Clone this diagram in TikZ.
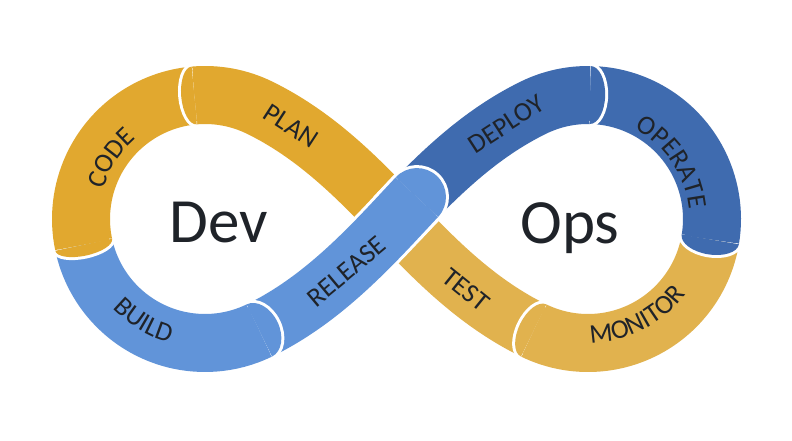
\documentclass[tikz,border=0pt]{standalone}
\usepackage{fontspec}
\setmainfont{Carlito}
\usetikzlibrary{calc,decorations.text}
\definecolor{yA}{HTML}{E1A82F}
\definecolor{yB}{HTML}{E1B24E}
\definecolor{bA}{HTML}{3F6BAF}
\definecolor{bB}{HTML}{6194D9}
\definecolor{txt}{HTML}{1F2329}
\newcommand{\lblfont}{\fontsize{27}{32}\selectfont}
\newcommand{\bandcap}[4]{%
  \begin{scope}[shift={(#1)}, rotate=#2]
    \draw[white, line width=6pt] (0,29) arc[start angle=90, end angle=-90, x radius=#3, y radius=29];
    \fill[#4] (0,29) arc[start angle=90, end angle=-90, x radius=#3, y radius=29] -- cycle;
  \end{scope}}
\begin{document}
\begin{tikzpicture}[x=1pt,y=1pt,
  band/.style={draw=#1, line width=58pt, preaction={draw=white, line width=64pt}},
  stage/.style={font=\lblfont, text=txt, inner sep=0pt},
  bigword/.style={font=\fontsize{63}{70}\selectfont, text=txt, inner sep=0pt, anchor=base},
  arctext/.style={decorate, decoration={text along path, text={|\lblfont|#1}, text align=center, text color=txt}}]
\useasboundingbox (0,0) rectangle (792,440);
% geometry
\coordinate (C1) at (205,221);
\coordinate (C2) at (588,221);
\coordinate (M) at (396.5,221);
\coordinate (P1) at ($(C1)+(-64:124)$);
\coordinate (Q1) at ($(C1)+(64:124)$);
\coordinate (P2) at ($(C2)+(116:124)$);
\coordinate (Q2) at ($(C2)+(-116:124)$);
\coordinate (c1) at ($(P1)+(26:60)$);
\coordinate (c2) at ($(M)+(227:60)$);
\coordinate (c3) at ($(M)+(47:60)$);
\coordinate (c4) at ($(P2)+(206:60)$);
\coordinate (d1) at ($(Q1)+(-26:60)$);
\coordinate (d2) at ($(M)+(133:60)$);
\coordinate (d3) at ($(M)+(-47:60)$);
\coordinate (d4) at ($(Q2)+(154:60)$);
\coordinate (E) at ($(M)+(47:30)$);
\coordinate (ePlan) at ($(C1)+(95:124)$);
\coordinate (eCode) at ($(C1)+(192:124)$);
\coordinate (eDeploy) at ($(C2)+(89:124)$);
\coordinate (eOperate) at ($(C2)+(-9.5:124)$);
% bodies
\draw[band=yB] (Q2) .. controls (d4) and (d3) .. (M);
\draw[band=yA] (M) .. controls (d2) and (d1) .. (Q1) arc[start angle=64, end angle=95, radius=124];
\draw[band=yB] (eOperate) arc[start angle=-9.5, end angle=-116, radius=124];
\draw[band=bA] (eDeploy) arc[start angle=89, end angle=-9.5, radius=124];
\draw[band=bA] (M) .. controls (c3) and (c4) .. (P2) arc[start angle=116, end angle=89, radius=124];
\draw[band=bB] (P1) .. controls (c1) and (c2) .. (M) -- (E);
\draw[band=bB] (eCode) arc[start angle=192, end angle=296, radius=124];
\draw[band=yA] (ePlan) arc[start angle=95, end angle=192, radius=124];
% rounded ends
\bandcap{Q2}{154}{15}{yB}
\bandcap{eOperate}{-99.5}{15}{bA}
\bandcap{eDeploy}{-1}{15}{bA}
\bandcap{E}{47}{29}{bB}
\bandcap{P1}{26}{20}{bB}
\bandcap{eCode}{282}{11}{yA}
\bandcap{ePlan}{185}{13}{yA}
% labels
\path[arctext=CODE] ($(C1)+(192.1:105.8)$) arc[start angle=192.1, end angle=102.1, radius=105.8];
\path[arctext=BUILD] ($(C1)+(193.9:128.7)$) arc[start angle=193.9, end angle=283.9, radius=128.7];
\path[arctext=OPERATE] ($(C2)+(94.1:101.5)$) arc[start angle=94.1, end angle=-25.9, radius=101.5];
\path[arctext=MONITOR] ($(C2)+(-118.2:123.9)$) arc[start angle=-118.2, end angle=-8.2, radius=123.9];
\node[stage, rotate=-33] (plan) at (291,314) {PLAN};
\node[stage, rotate=40] (release) at (346.5,168.5) {RELEASE};
\node[stage, rotate=-39] (test) at (466,150) {TEST};
\node[stage, rotate=33] (deploy) at (506,316) {DEPLOY};
\node[bigword] (dev) at (218.5,198) {Dev};
\node[bigword] (ops) at (570,197) {Ops};
\end{tikzpicture}
\end{document}
